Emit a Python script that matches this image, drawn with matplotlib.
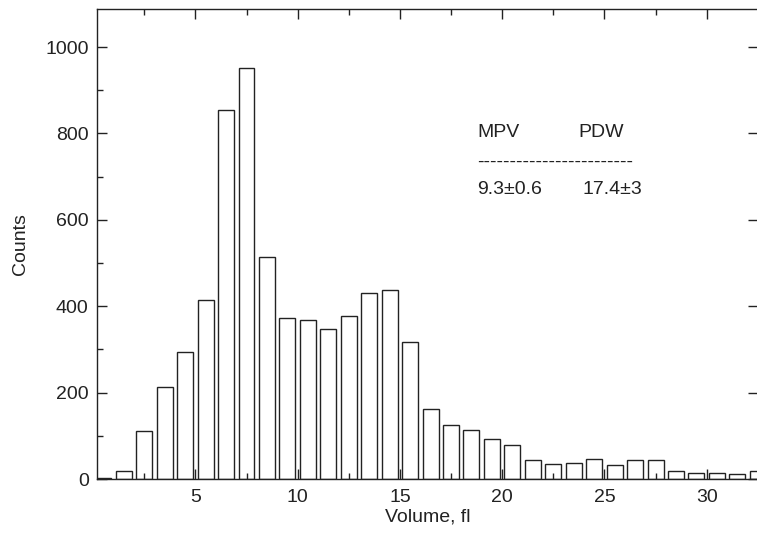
import matplotlib
matplotlib.use("Agg")
import matplotlib.pyplot as plt
from matplotlib.ticker import MultipleLocator

plt.rcParams['font.family'] = ['Liberation Sans', 'DejaVu Sans']

# bin centres (fl) and counts
volume = [0.5, 1.5, 2.5, 3.5, 4.5, 5.5, 6.5, 7.5, 8.5, 9.5, 10.5, 11.5,
          12.5, 13.5, 14.5, 15.5, 16.5, 17.5, 18.5, 19.5, 20.5, 21.5, 22.5,
          23.5, 24.5, 25.5, 26.5, 27.5, 28.5, 29.5, 30.5, 31.5, 32.5]
counts = [3, 18, 111, 214, 295, 414, 854, 952, 513, 373, 369, 348,
          378, 431, 437, 317, 161, 126, 113, 93, 79, 45, 34,
          37, 46, 32, 45, 43, 19, 13, 15, 11, 18]

header = ["MPV", "PDW"]
values = ["9.3\u00b10.6", "17.4\u00b13"]

ink = "#222222"

fig = plt.figure(figsize=(7.57, 5.36), dpi=100, facecolor='white')
# right spine sits just past the image edge, as in the reference
ax = fig.add_axes([97 / 757, 57 / 536, 661 / 757, 470 / 536])

ax.bar(volume, counts, width=0.78, color='white', edgecolor=ink, linewidth=1.0)

ax.set_xlim(0.19, 32.51)
ax.set_ylim(0, 1088)

ax.xaxis.set_major_locator(MultipleLocator(5))
ax.xaxis.set_minor_locator(MultipleLocator(2.5))
ax.yaxis.set_major_locator(MultipleLocator(200))
ax.yaxis.set_minor_locator(MultipleLocator(100))

ax.tick_params(which='both', direction='in', colors=ink, labelsize=14, width=1.0,
               top=True, right=True)
ax.tick_params(which='major', length=7, pad=7)
ax.tick_params(which='minor', length=4, right=False)
ax.tick_params(axis='y', which='major', pad=6)
for s in ax.spines.values():
    s.set_color(ink)
    s.set_linewidth(1.0)

ax.set_xlabel("Volume, fl", fontsize=14, color=ink, labelpad=2)
ax.set_ylabel("Counts", fontsize=14, color=ink, labelpad=12)

ax.text(18.8, 803, header[0], fontsize=14, color=ink, va='center')
ax.text(23.75, 803, header[1], fontsize=14, color=ink, va='center')
ax.text(18.8, 734, "-" * 24, fontsize=14, color=ink, va='center')
ax.text(18.8, 671, values[0], fontsize=14, color=ink, va='center')
ax.text(23.95, 671, values[1], fontsize=14, color=ink, va='center')

fig.savefig("out.png", dpi=100)
